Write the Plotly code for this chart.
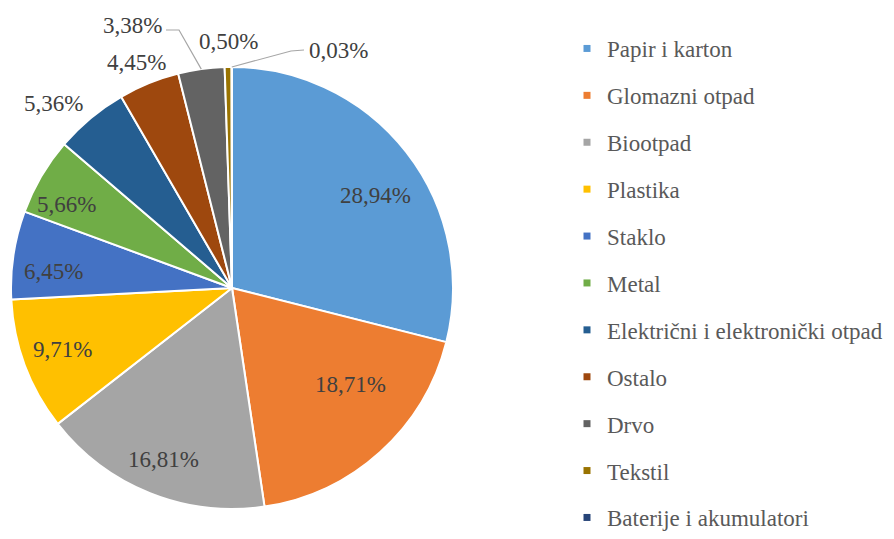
import math
import plotly.graph_objects as go

# ---- data ----
labels = ["Papir i karton", "Glomazni otpad", "Biootpad", "Plastika", "Staklo", "Metal",
          "Električni i elektronički otpad", "Ostalo", "Drvo", "Tekstil", "Baterije i akumulatori"]
values = [28.94, 18.71, 16.81, 9.71, 6.45, 5.66, 5.36, 4.45, 3.38, 0.50, 0.03]
colors = ["#5B9BD5", "#ED7D31", "#A5A5A5", "#FFC000", "#4472C4", "#70AD47",
          "#255E91", "#9E480E", "#636363", "#997300", "#264478"]

text = [f"{v:.2f}".replace(".", ",") + "%" for v in values]

# ---- layout constants (pixels) ----
W, H = 894, 539
CX, CY, R = 232, 288, 221
FONT = "Liberation Serif"

# label placement: (fraction of radius, angle nudge in degrees) relative to slice mid-angle
label_place = {0: (0.772, 4.9), 1: (0.691, -8.5), 2: (0.838, 0.0), 3: (0.815, 0.4),
               4: (0.81, -3.2), 5: (0.836, -3.7), 6: (1.162, -4.2), 7: (1.107, -1.0)}
# labels moved away with leader lines (pixel positions)
label_px = {8: (132, 25), 9: (228, 41), 10: (338, 51)}

def px(x):
    return x / W

def py(y):
    return 1 - y / H

fig = go.Figure()
fig.add_trace(go.Pie(
    labels=labels, values=values, sort=False, direction="clockwise", rotation=0,
    marker=dict(colors=colors, line=dict(color="white", width=2)),
    textinfo="none",
    hoverinfo="label+percent",
    domain=dict(x=[px(CX - R), px(CX + R)], y=[py(CY + R), py(CY - R)]),
    showlegend=False,
))

# legend entries (dummy traces carrying the slice colours)
for i, (lab, col) in enumerate(zip(labels, colors)):
    fig.add_trace(go.Scatter(
        x=[None], y=[None], mode="markers", name=lab, legendgroup=f"g{i}",
        marker=dict(symbol="square", size=7, color=col), hoverinfo="skip",
    ))

# mid angles of slices (clockwise from 12 o'clock)
total = sum(values)
mids = []
cum = 0.0
for v in values:
    mids.append((cum + v / 2) / total * 2 * math.pi)
    cum += v

def polar(i, f=1.0, nudge_deg=0.0):
    a = mids[i] + math.radians(nudge_deg)
    return CX + R * f * math.sin(a), CY - R * f * math.cos(a)

annotations = []
for i in range(len(values)):
    if i in label_place:
        f, nd = label_place[i]
        lx, ly = polar(i, f, nd)
    else:
        lx, ly = label_px[i]
    annotations.append(dict(
        x=px(lx), y=py(ly), xref="paper", yref="paper", text=text[i], showarrow=False,
        font=dict(family=FONT, size=23, color="#404040"), xanchor="center", yanchor="middle",
    ))

shapes = []
ex, ey = polar(8)
shapes.append(dict(type="path", xref="paper", yref="paper",
                   path=f"M {px(166)} {py(30)} L {px(179)} {py(30)} L {px(ex)} {py(ey)}",
                   line=dict(color="#A6A6A6", width=1.2)))
ex, ey = polar(10)
shapes.append(dict(type="path", xref="paper", yref="paper",
                   path=f"M {px(304)} {py(50)} L {px(291)} {py(51)} L {px(ex)} {py(ey)}",
                   line=dict(color="#A6A6A6", width=1.2)))

fig.update_layout(
    width=W, height=H,
    margin=dict(l=0, r=0, t=0, b=0),
    paper_bgcolor="white", plot_bgcolor="white",
    xaxis=dict(visible=False), yaxis=dict(visible=False),
    showlegend=True,
    legend=dict(x=px(567), y=py(60), xanchor="left", yanchor="top",
                font=dict(family=FONT, size=23, color="#595959"),
                tracegroupgap=14, itemsizing="trace", bgcolor="rgba(0,0,0,0)"),
    annotations=annotations, shapes=shapes,
)

fig.write_html("out.html", config={"displayModeBar": False},
               post_script="document.body.style.margin='0';")
